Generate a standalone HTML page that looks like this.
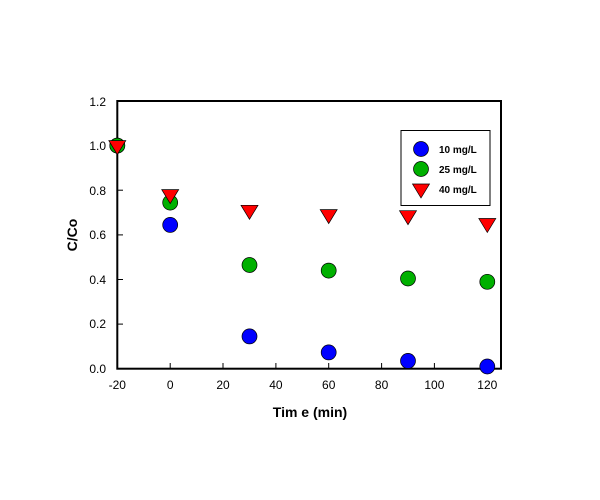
<!DOCTYPE html>
<html><head><style>body{margin:0;background:#fff}svg{display:block}</style></head><body>
<svg width="600" height="500" xmlns="http://www.w3.org/2000/svg" font-family="Liberation Sans, Arial, sans-serif">
<rect width="600" height="500" fill="#fff"/>
<rect x="117.3" y="101" width="383.7" height="267.7" fill="none" stroke="#000" stroke-width="2"/>
<g stroke="#000" stroke-width="1">
<line x1="117.3" y1="368.7" x2="117.3" y2="363"/><line x1="170.2" y1="368.7" x2="170.2" y2="363"/><line x1="223" y1="368.7" x2="223" y2="363"/><line x1="275.9" y1="368.7" x2="275.9" y2="363"/><line x1="328.7" y1="368.7" x2="328.7" y2="363"/><line x1="381.6" y1="368.7" x2="381.6" y2="363"/><line x1="434.4" y1="368.7" x2="434.4" y2="363"/><line x1="487.3" y1="368.7" x2="487.3" y2="363"/>
<line x1="117.3" y1="324.1" x2="123" y2="324.1"/><line x1="117.3" y1="279.5" x2="123" y2="279.5"/><line x1="117.3" y1="234.9" x2="123" y2="234.9"/><line x1="117.3" y1="190.2" x2="123" y2="190.2"/><line x1="117.3" y1="145.6" x2="123" y2="145.6"/>
</g>
<g font-size="12" fill="#000" text-anchor="middle">
<text x="117.3" y="389">-20</text><text x="170.2" y="389">0</text><text x="223" y="389">20</text><text x="275.9" y="389">40</text><text x="328.7" y="389">60</text><text x="381.6" y="389">80</text><text x="434.4" y="389">100</text><text x="487.3" y="389">120</text>
</g>
<g font-size="12" fill="#000" text-anchor="end">
<text x="106" y="373">0.0</text><text x="106" y="328">0.2</text><text x="106" y="284">0.4</text><text x="106" y="239">0.6</text><text x="106" y="195">0.8</text><text x="106" y="150">1.0</text><text x="106" y="106">1.2</text>
</g>
<text x="310" y="417" font-size="14" font-weight="bold" text-anchor="middle">Tim e (min)</text>
<text transform="translate(77,235) rotate(-90)" font-size="14" font-weight="bold" text-anchor="middle">C/Co</text>
<g fill="#0000ff" stroke="#000" stroke-width="0.7">
<circle cx="117.3" cy="145.6" r="7.5"/><circle cx="170.2" cy="224.9" r="7.5"/><circle cx="249.5" cy="336.4" r="7.5"/><circle cx="328.7" cy="352.4" r="7.5"/><circle cx="408" cy="360.9" r="7.5"/><circle cx="487.3" cy="366.5" r="7.5"/>
</g>
<g fill="#00b000" stroke="#000" stroke-width="0.7">
<circle cx="117.3" cy="145.6" r="7.5"/><circle cx="170.2" cy="202.6" r="7.5"/><circle cx="249.5" cy="265" r="7.5"/><circle cx="328.7" cy="270.6" r="7.5"/><circle cx="408" cy="278.5" r="7.5"/><circle cx="487.3" cy="281.8" r="7.5"/>
</g>
<g fill="#ff0000" stroke="#000" stroke-width="0.7">
<path d="M108.8,140.6 h17 l-8.5,14 z"/>
<path d="M161.7,189.6 h17 l-8.5,14 z"/>
<path d="M241,205.3 h17 l-8.5,14 z"/>
<path d="M320.2,209.6 h17 l-8.5,14 z"/>
<path d="M399.5,210.7 h17 l-8.5,14 z"/>
<path d="M478.8,218.5 h17 l-8.5,14 z"/>
</g>
<rect x="401" y="130.5" width="89" height="75" fill="#fff" stroke="#000" stroke-width="1"/>
<circle cx="421" cy="149" r="7.5" fill="#0000ff" stroke="#000" stroke-width="0.7"/>
<circle cx="421" cy="169" r="7.5" fill="#00b000" stroke="#000" stroke-width="0.7"/>
<path d="M412.5,184 h17 l-8.5,14 z" fill="#ff0000" stroke="#000" stroke-width="0.7"/>
<g font-size="10" font-weight="bold" fill="#000">
<text x="439" y="153">10 mg/L</text><text x="439" y="173">25 mg/L</text><text x="439" y="193">40 mg/L</text>
</g>
</svg>
</body></html>
